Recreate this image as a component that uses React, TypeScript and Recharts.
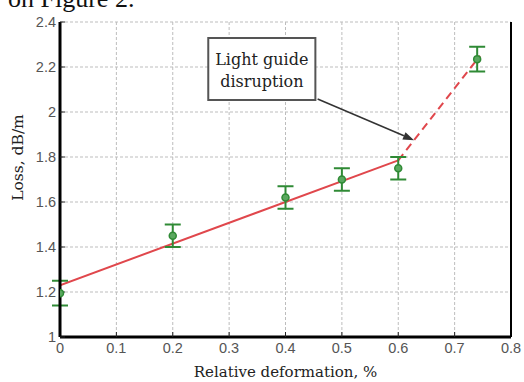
import {
  ComposedChart,
  Scatter,
  Line,
  XAxis,
  YAxis,
  CartesianGrid,
  ErrorBar,
  ReferenceArea,
  ReferenceLine,
} from 'recharts';

// measured loss vs. relative deformation, with error bars
const deformation = [0, 0.2, 0.4, 0.5, 0.6, 0.74];
const loss = [1.195, 1.45, 1.62, 1.7, 1.75, 2.235];
const lossError = [0.055, 0.05, 0.05, 0.05, 0.05, 0.055];

// linear fit (solid) and extrapolated break section (dashed)
const fitX = [0, 0.6];
const fitY = [1.23, 1.785];
const breakX = [0.6, 0.745];
const breakY = [1.785, 2.25];

const xTicks = [0, 0.1, 0.2, 0.3, 0.4, 0.5, 0.6, 0.7, 0.8];
const yTicks = [1, 1.2, 1.4, 1.6, 1.8, 2, 2.2, 2.4];

// callout box + arrow, in data units
const noteLines = ['Light guide', 'disruption'];
const noteBoxX = [0.263, 0.453];
const noteBoxY = [2.053, 2.329];
const arrowFrom = { x: 0.457, y: 2.058 };
const arrowTo = { x: 0.628, y: 1.875 };

const GREEN = '#2f8a35';
const RED = '#e0474c';
const SERIF = '"DejaVu Serif", serif';

const points = deformation.map((x, i) => ({ x, y: loss[i], err: lossError[i] }));
const fitLine = fitX.map((x, i) => ({ x, y: fitY[i] }));
const breakLine = breakX.map((x, i) => ({ x, y: breakY[i] }));

const tickStyle = { fill: '#555', fontSize: 14.5, fontFamily: '"Liberation Sans", Arial, sans-serif' };

const Marker = (props: any) => (
  <circle cx={props.cx} cy={props.cy} r={3.5} fill="#5aa85f" stroke={GREEN} strokeWidth={1.5} />
);

const Arrow = (props: any) => {
  const { x1, y1, x2, y2 } = props;
  const a = Math.atan2(y2 - y1, x2 - x1);
  const len = 11;
  const w = 4;
  const bx = x2 - len * Math.cos(a);
  const by = y2 - len * Math.sin(a);
  const px = -Math.sin(a) * w;
  const py = Math.cos(a) * w;
  return (
    <g>
      <line x1={x1} y1={y1} x2={bx} y2={by} stroke="#333" strokeWidth={1.5} />
      <polygon points={`${x2},${y2} ${bx + px},${by + py} ${bx - px},${by - py}`} fill="#333" />
    </g>
  );
};

const NoteText = (props: any) => {
  const vb = props.viewBox;
  const cx = vb.x + vb.width / 2;
  return (
    <text x={cx} y={vb.y + 27} textAnchor="middle" fontFamily={SERIF} fontSize={16} fill="#222">
      {noteLines.map((t, i) => (
        <tspan key={t} x={cx} dy={i === 0 ? 0 : 22}>
          {t}
        </tspan>
      ))}
    </text>
  );
};

const XLabel = (props: any) => {
  const vb = props.viewBox;
  return (
    <text x={vb.x + vb.width / 2} y={vb.y + 40} textAnchor="middle" fontFamily={SERIF} fontSize={15} fill="#222">
      Relative deformation, %
    </text>
  );
};

const YLabel = (props: any) => {
  const vb = props.viewBox;
  const x = 23;
  const y = vb.y + vb.height / 2 - 22;
  return (
    <text x={x} y={y} transform={`rotate(-90, ${x}, ${y})`} textAnchor="middle" fontFamily={SERIF} fontSize={15.5} fill="#222">
      Loss, dB/m
    </text>
  );
};

export default function App() {
  return (
    <div style={{ position: 'absolute', left: 0, top: 0, width: 524, height: 382, background: '#fff', overflow: 'hidden' }}>
      <svg width={524} height={30} style={{ position: 'absolute', left: 0, top: 0 }}>
        <text x={8} y={7} fontFamily='"Liberation Serif", serif' fontSize={26} fill="#111">
          on Figure 2.
        </text>
      </svg>
      <ComposedChart width={524} height={382} margin={{ top: 22, right: 0, bottom: 0, left: 0 }}>
        <CartesianGrid stroke="#bdbdbd" strokeDasharray="3 2" />
        <XAxis
          dataKey="x"
          type="number"
          domain={[0, 0.8]}
          ticks={xTicks}
          height={45}
          allowDataOverflow
          tick={tickStyle}
          tickSize={-5}
          tickMargin={11}
          axisLine={{ stroke: '#000', strokeWidth: 3 }}
          tickLine={{ stroke: '#222' }}
          label={<XLabel />}
        />
        <XAxis
          xAxisId="top"
          orientation="top"
          type="number"
          domain={[0, 0.8]}
          ticks={xTicks}
          height={0}
          tick={false}
          tickSize={-5}
          axisLine={{ stroke: '#000', strokeWidth: 2 }}
          tickLine={{ stroke: '#222' }}
        />
        <YAxis
          dataKey="y"
          type="number"
          domain={[1, 2.4]}
          ticks={yTicks}
          width={60}
          allowDataOverflow
          tick={tickStyle}
          tickSize={-5}
          tickMargin={9}
          axisLine={{ stroke: '#000', strokeWidth: 3 }}
          tickLine={{ stroke: '#222' }}
          label={<YLabel />}
        />
        <YAxis
          yAxisId="right"
          orientation="right"
          type="number"
          domain={[1, 2.4]}
          ticks={yTicks}
          width={13}
          tick={false}
          tickSize={-5}
          axisLine={{ stroke: '#000', strokeWidth: 2 }}
          tickLine={{ stroke: '#222' }}
        />
        <Line
          data={fitLine}
          dataKey="y"
          type="linear"
          stroke={RED}
          strokeWidth={2}
          dot={false}
          activeDot={false}
          isAnimationActive={false}
        />
        <Line
          data={breakLine}
          dataKey="y"
          type="linear"
          stroke={RED}
          strokeWidth={2}
          strokeDasharray="8 5"
          dot={false}
          activeDot={false}
          isAnimationActive={false}
        />
        <ReferenceLine
          segment={[arrowFrom, arrowTo]}
          shape={Arrow}
          ifOverflow="visible"
        />
        <ReferenceArea
          x1={noteBoxX[0]}
          x2={noteBoxX[1]}
          y1={noteBoxY[0]}
          y2={noteBoxY[1]}
          fill="#fff"
          fillOpacity={1}
          stroke="#555"
          strokeWidth={2}
          ifOverflow="visible"
          label={<NoteText />}
        />
        <Scatter data={points} dataKey="y" shape={Marker} isAnimationActive={false}>
          <ErrorBar dataKey="err" direction="y" width={8} stroke={GREEN} strokeWidth={2} />
        </Scatter>
      </ComposedChart>
    </div>
  );
}
